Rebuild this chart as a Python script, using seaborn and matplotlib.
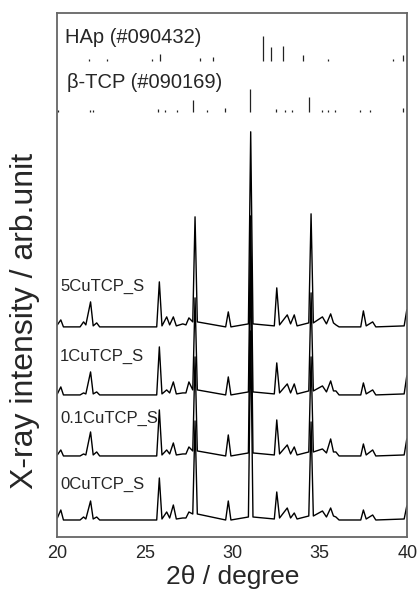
import matplotlib
matplotlib.use("Agg")
import matplotlib.pyplot as plt
import numpy as np
import pandas as pd
import seaborn as sns

# 2theta vertices of the traced patterns (shared by all four samples)
two_theta = [20.00, 20.20, 20.35, 21.30, 21.50, 21.63, 21.90, 22.05, 22.25, 22.42,
             25.68, 25.83, 25.98, 26.25, 26.42, 26.63, 26.80, 27.17, 27.35, 27.52,
             27.74, 27.87, 28.00, 29.62, 29.77, 29.92, 30.92, 31.05, 31.18, 32.40,
             32.54, 32.70, 33.14, 33.33, 33.54, 33.70, 34.37, 34.50, 34.63, 35.15,
             35.38, 35.62, 35.78, 35.92, 36.10, 37.34, 37.49, 37.65, 38.02, 38.20,
             39.82, 39.97, 40.00]

# intensities (arb. unit) above each sample's own baseline
int_5cu = [3, 8, 1, 1, 6, 3, 26, 2, 5, 1,
           1, 46, 2, 11, 3, 11, 2, 4, 3, 10,
           6, 111, 6, 1, 16, 1, 4, 196, 4, 2,
           40, 3, 13, 4, 13, 2, 5, 114, 5, 11,
           4, 14, 5, 3, 1, 1, 17, 2, 6, 1,
           2, 18, 14]
int_1cu = [2, 9, 1, 1, 3, 2, 24, 2, 4, 1,
           1, 49, 2, 6, 3, 14, 2, 3, 3, 14,
           6, 98, 6, 1, 19, 1, 4, 180, 4, 2,
           33, 3, 12, 3, 12, 2, 5, 103, 5, 10,
           4, 15, 5, 5, 1, 1, 13, 2, 6, 1,
           2, 20, 16]
int_01cu = [2, 7, 1, 1, 3, 2, 25, 2, 5, 1,
            1, 47, 2, 7, 3, 14, 2, 3, 3, 10,
            6, 100, 6, 1, 22, 1, 4, 200, 4, 2,
            37, 3, 12, 3, 10, 2, 5, 100, 5, 8,
            4, 18, 5, 5, 1, 1, 13, 2, 7, 1,
            2, 18, 14]
int_0cu = [3, 11, 1, 1, 4, 2, 20, 2, 4, 1,
           1, 43, 2, 9, 3, 16, 2, 3, 3, 9,
           7, 100, 7, 1, 20, 1, 4, 190, 4, 2,
           29, 3, 13, 3, 8, 2, 5, 99, 5, 10,
           4, 13, 5, 4, 1, 1, 11, 2, 6, 1,
           2, 15, 12]

samples = ["5CuTCP_S", "1CuTCP_S", "0.1CuTCP_S", "0CuTCP_S"]
traces = [int_5cu, int_1cu, int_01cu, int_0cu]

# reference stick patterns
hap_pos = [21.83, 22.86, 25.39, 25.87, 28.15, 28.91, 31.77, 32.19, 32.91, 34.06, 35.49, 39.20, 39.74]
hap_int = [2, 2, 2, 7, 3, 4, 25, 14, 15, 6, 2, 2, 6]
tcp_pos = [20.06, 21.87, 22.06, 25.77, 26.15, 26.82, 27.77, 28.54, 29.60, 31.03,
           32.50, 33.00, 33.40, 34.37, 35.10, 35.49, 35.87, 37.30, 37.87, 39.74]
tcp_int = [2, 2, 2, 3, 2, 2, 12, 2, 4, 23,
           3, 2, 2, 15, 2, 2, 2, 2, 2, 4]

offsets = [209, 141, 80, 16]
label_y = [250, 180, 119, 53]

sns.set_style("white")
plt.rcParams["font.family"] = ["Liberation Sans", "DejaVu Sans"]

fig = plt.figure(figsize=(4.19, 5.92), dpi=100)
ax = fig.add_axes([0.1368, 0.0929, 0.8353, 0.8856])

for name, vals, off in zip(samples, traces, offsets):
    df = pd.DataFrame({"two_theta": two_theta, "intensity": np.array(vals) + off})
    sns.lineplot(data=df, x="two_theta", y="intensity", ax=ax, color="black",
                 lw=1.0, estimator=None, sort=False)

for name, ly in zip(samples, label_y):
    ax.text(20.15, ly, name, fontsize=12, va="center", ha="left")

ax.vlines(hap_pos, 476, 476 + np.array(hap_int), color="#222222", lw=0.9)
ax.vlines(tcp_pos, 425, 425 + np.array(tcp_int), color="#222222", lw=0.9)
ax.text(20.44, 499, "HAp (#090432)", fontsize=14.5, va="center", ha="left")
ax.text(20.54, 454, "β-TCP (#090169)", fontsize=14.5, va="center", ha="left")

ax.set_xlim(20, 40)
ax.set_ylim(0, 524)
ax.set_xticks([20, 25, 30, 35, 40])
ax.set_yticks([])
ax.tick_params(axis="x", direction="in", length=4, width=1, labelsize=13,
               color="#555555", pad=6)
for s in ax.spines.values():
    s.set_color("#666666")
    s.set_linewidth(1.3)
ax.set_xlabel("2θ / degree", fontsize=19, labelpad=2)
ax.set_ylabel("X-ray intensity / arb.unit", fontsize=23)
ax.yaxis.set_label_coords(-0.05, 0.412)

fig.savefig("out.png", dpi=100)
